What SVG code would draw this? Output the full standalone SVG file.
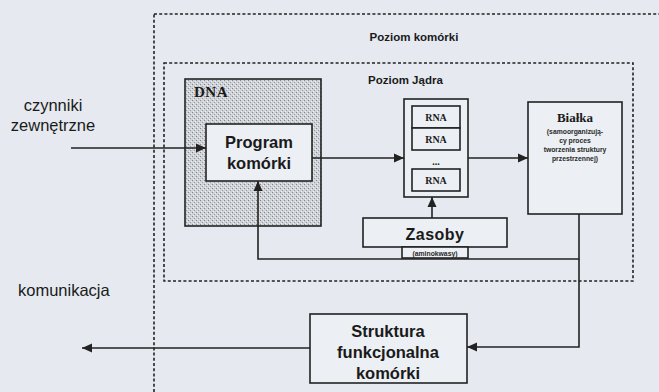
<svg xmlns="http://www.w3.org/2000/svg" width="659" height="392" viewBox="0 0 659 392">
<style>
.box{fill:#eceff3;stroke:#222;stroke-width:1.6}
.dash{fill:none;stroke:#222;stroke-width:1.6;stroke-dasharray:3 2.2}
.con{fill:none;stroke:#222;stroke-width:1.6}
.sans{font-family:"Liberation Sans",Arial,sans-serif;fill:#1a1a1a}
.serif{font-family:"Liberation Serif","Times New Roman",serif;fill:#1a1a1a;font-weight:bold}
.b{font-weight:bold}
.mid{text-anchor:middle}
.small{font-size:6.8px;font-weight:bold;fill:#2a2a2a}
</style>
<defs>
<marker id="ah" viewBox="0 0 10 10" refX="10" refY="5" markerWidth="10" markerHeight="10" markerUnits="userSpaceOnUse" orient="auto">
<path d="M0,0.5 L10,5 L0,9.5 Z" fill="#222"/>
</marker>
<pattern id="stip" width="4" height="4" patternUnits="userSpaceOnUse">
<rect width="4" height="4" fill="#cfd2d6"/>
<rect x="0" y="0" width="1" height="1" fill="#85878b"/>
<rect x="2" y="2" width="1" height="1" fill="#9a9ca0"/>
<rect x="3" y="1" width="1" height="1" fill="#eceef1"/>
<rect x="1" y="3" width="1" height="1" fill="#eceef1"/>
</pattern>
</defs>
<rect width="659" height="392" fill="#e6eaf0"/>

<g id="poziom-komorki">
<rect class="dash" x="154" y="14" width="530" height="400"/>
<text class="sans b mid" x="414" y="41" font-size="11.5">Poziom komórki</text>
</g>

<g id="poziom-jadra">
<rect class="dash" x="164" y="63" width="469" height="218"/>
<text class="sans b" x="368" y="84" font-size="11.5">Poziom Jądra</text>
</g>

<g id="czynniki">
<text class="sans mid" x="53" y="111" font-size="16.5">czynniki</text>
<text class="sans mid" x="53" y="131" font-size="16.5">zewnętrzne</text>
</g>

<g id="komunikacja">
<text class="sans" x="18" y="296" font-size="16.5">komunikacja</text>
</g>

<g id="dna">
<rect x="185" y="79" width="136" height="147" fill="url(#stip)" stroke="#222" stroke-width="1.6"/>
<text class="serif" x="194" y="97" font-size="15" letter-spacing="0.5">DNA</text>
</g>

<g id="program">
<rect class="box" x="206" y="124" width="106" height="57" fill="#f0f2f5"/>
<text class="sans b mid" x="259" y="148" font-size="16.5">Program</text>
<text class="sans b mid" x="259" y="169" font-size="16.5">komórki</text>
</g>

<g id="rna">
<rect class="box" x="404" y="99" width="64" height="98"/>
<rect class="box" x="412" y="106" width="48" height="22"/>
<rect class="box" x="412" y="128" width="48" height="22"/>
<rect class="box" x="412" y="169" width="48" height="22"/>
<text class="serif mid" x="436" y="121" font-size="10">RNA</text>
<text class="serif mid" x="436" y="143" font-size="10">RNA</text>
<text class="serif mid" x="436" y="165" font-size="10">...</text>
<text class="serif mid" x="436" y="184" font-size="10">RNA</text>
</g>

<g id="bialka">
<rect class="box" x="528" y="102" width="94" height="112"/>
<text class="serif mid" x="575" y="122" font-size="13">Białka</text>
<text class="sans mid small" x="575" y="134">(samoorganizują-</text>
<text class="sans mid small" x="575" y="143">cy proces</text>
<text class="sans mid small" x="575" y="152">tworzenia struktury</text>
<text class="sans mid small" x="575" y="161">przestrzennej)</text>
</g>

<g id="zasoby">
<rect class="box" x="363" y="218" width="144" height="29"/>
<text class="sans b mid" x="435" y="240" font-size="16" letter-spacing="0.5">Zasoby</text>
<rect class="box" x="402" y="247" width="66" height="11"/>
<text class="sans mid small" x="435" y="256">(aminokwasy)</text>
</g>

<g id="struktura">
<rect class="box" x="310" y="314" width="157" height="69"/>
<text class="sans b mid" x="388" y="337" font-size="16.5">Struktura</text>
<text class="sans b mid" x="388" y="358" font-size="16.5">funkcjonalna</text>
<text class="sans b mid" x="388" y="379" font-size="16.5">komórki</text>
</g>

<g id="connectors">
<path class="con" d="M71,148 H206" marker-end="url(#ah)"/>
<path class="con" d="M312,158 H404" marker-end="url(#ah)"/>
<path class="con" d="M468,158 H528" marker-end="url(#ah)"/>
<path class="con" d="M432,218 V197" marker-end="url(#ah)"/>
<path class="con" d="M579,214 V259 H258 V181" marker-end="url(#ah)"/>
<path class="con" d="M579,259 V347 H467" marker-end="url(#ah)"/>
<path class="con" d="M310,348 H82" marker-end="url(#ah)"/>
</g>
</svg>
